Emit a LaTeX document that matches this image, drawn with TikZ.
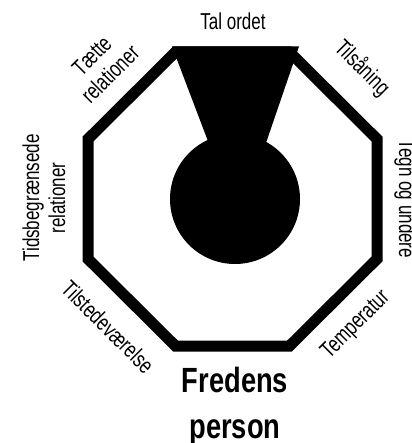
\documentclass[tikz,border=0pt]{standalone}
\usepackage{fontspec}
\newfontfamily\labfont[FakeStretch=0.74]{Liberation Sans}
\newfontfamily\titfont[FakeStretch=0.78]{Liberation Sans Bold}
\begin{document}
\begin{tikzpicture}[x=1pt,y=-1pt,
  lab/.style={font=\labfont\fontsize{23}{26}\selectfont, inner sep=0pt, align=center},
  tit/.style={font=\titfont\fontsize{35}{46}\selectfont, inner sep=0pt, align=center},
  octo/.style={draw=black, line width=11pt, line join=miter},
  blob/.style={fill=black, draw=none}]
\useasboundingbox (0,0) rectangle (411,443);
% octagon
\draw[octo] (175.5,52) -- (289.5,52) -- (377,139) -- (377,259) -- (289.5,346)
  -- (175.5,346) -- (88,259) -- (88,139) -- cycle;
% trapezoid and circle
\fill[blob] (172,46.5) -- (299,46.5) -- (254,178) -- (222,178) -- cycle;
\fill[blob] (235,199) circle (65);
% labels
\node[lab, anchor=base] (talordet) at (233,30) {Tal ordet};
\node[lab, rotate=45] (taette) at (101,65) {Tætte\\relationer};
\node[lab, rotate=-45] (tilsaaning) at (362,68) {Tilsåning};
\node[lab, rotate=90] (tidsbeg) at (44,198) {Tidsbegrænsede\\relationer};
\node[lab, rotate=-90, anchor=base] (tegn) at (399,199) {Tegn og undere};
\node[lab, rotate=-45] (tilstede) at (108,327) {Tilstedeværelse};
\node[lab, rotate=45] (temp) at (356,325) {Temperatur};
\node[tit, anchor=base] (fredens) at (235,438) {Fredens\\person};
\end{tikzpicture}
\end{document}
